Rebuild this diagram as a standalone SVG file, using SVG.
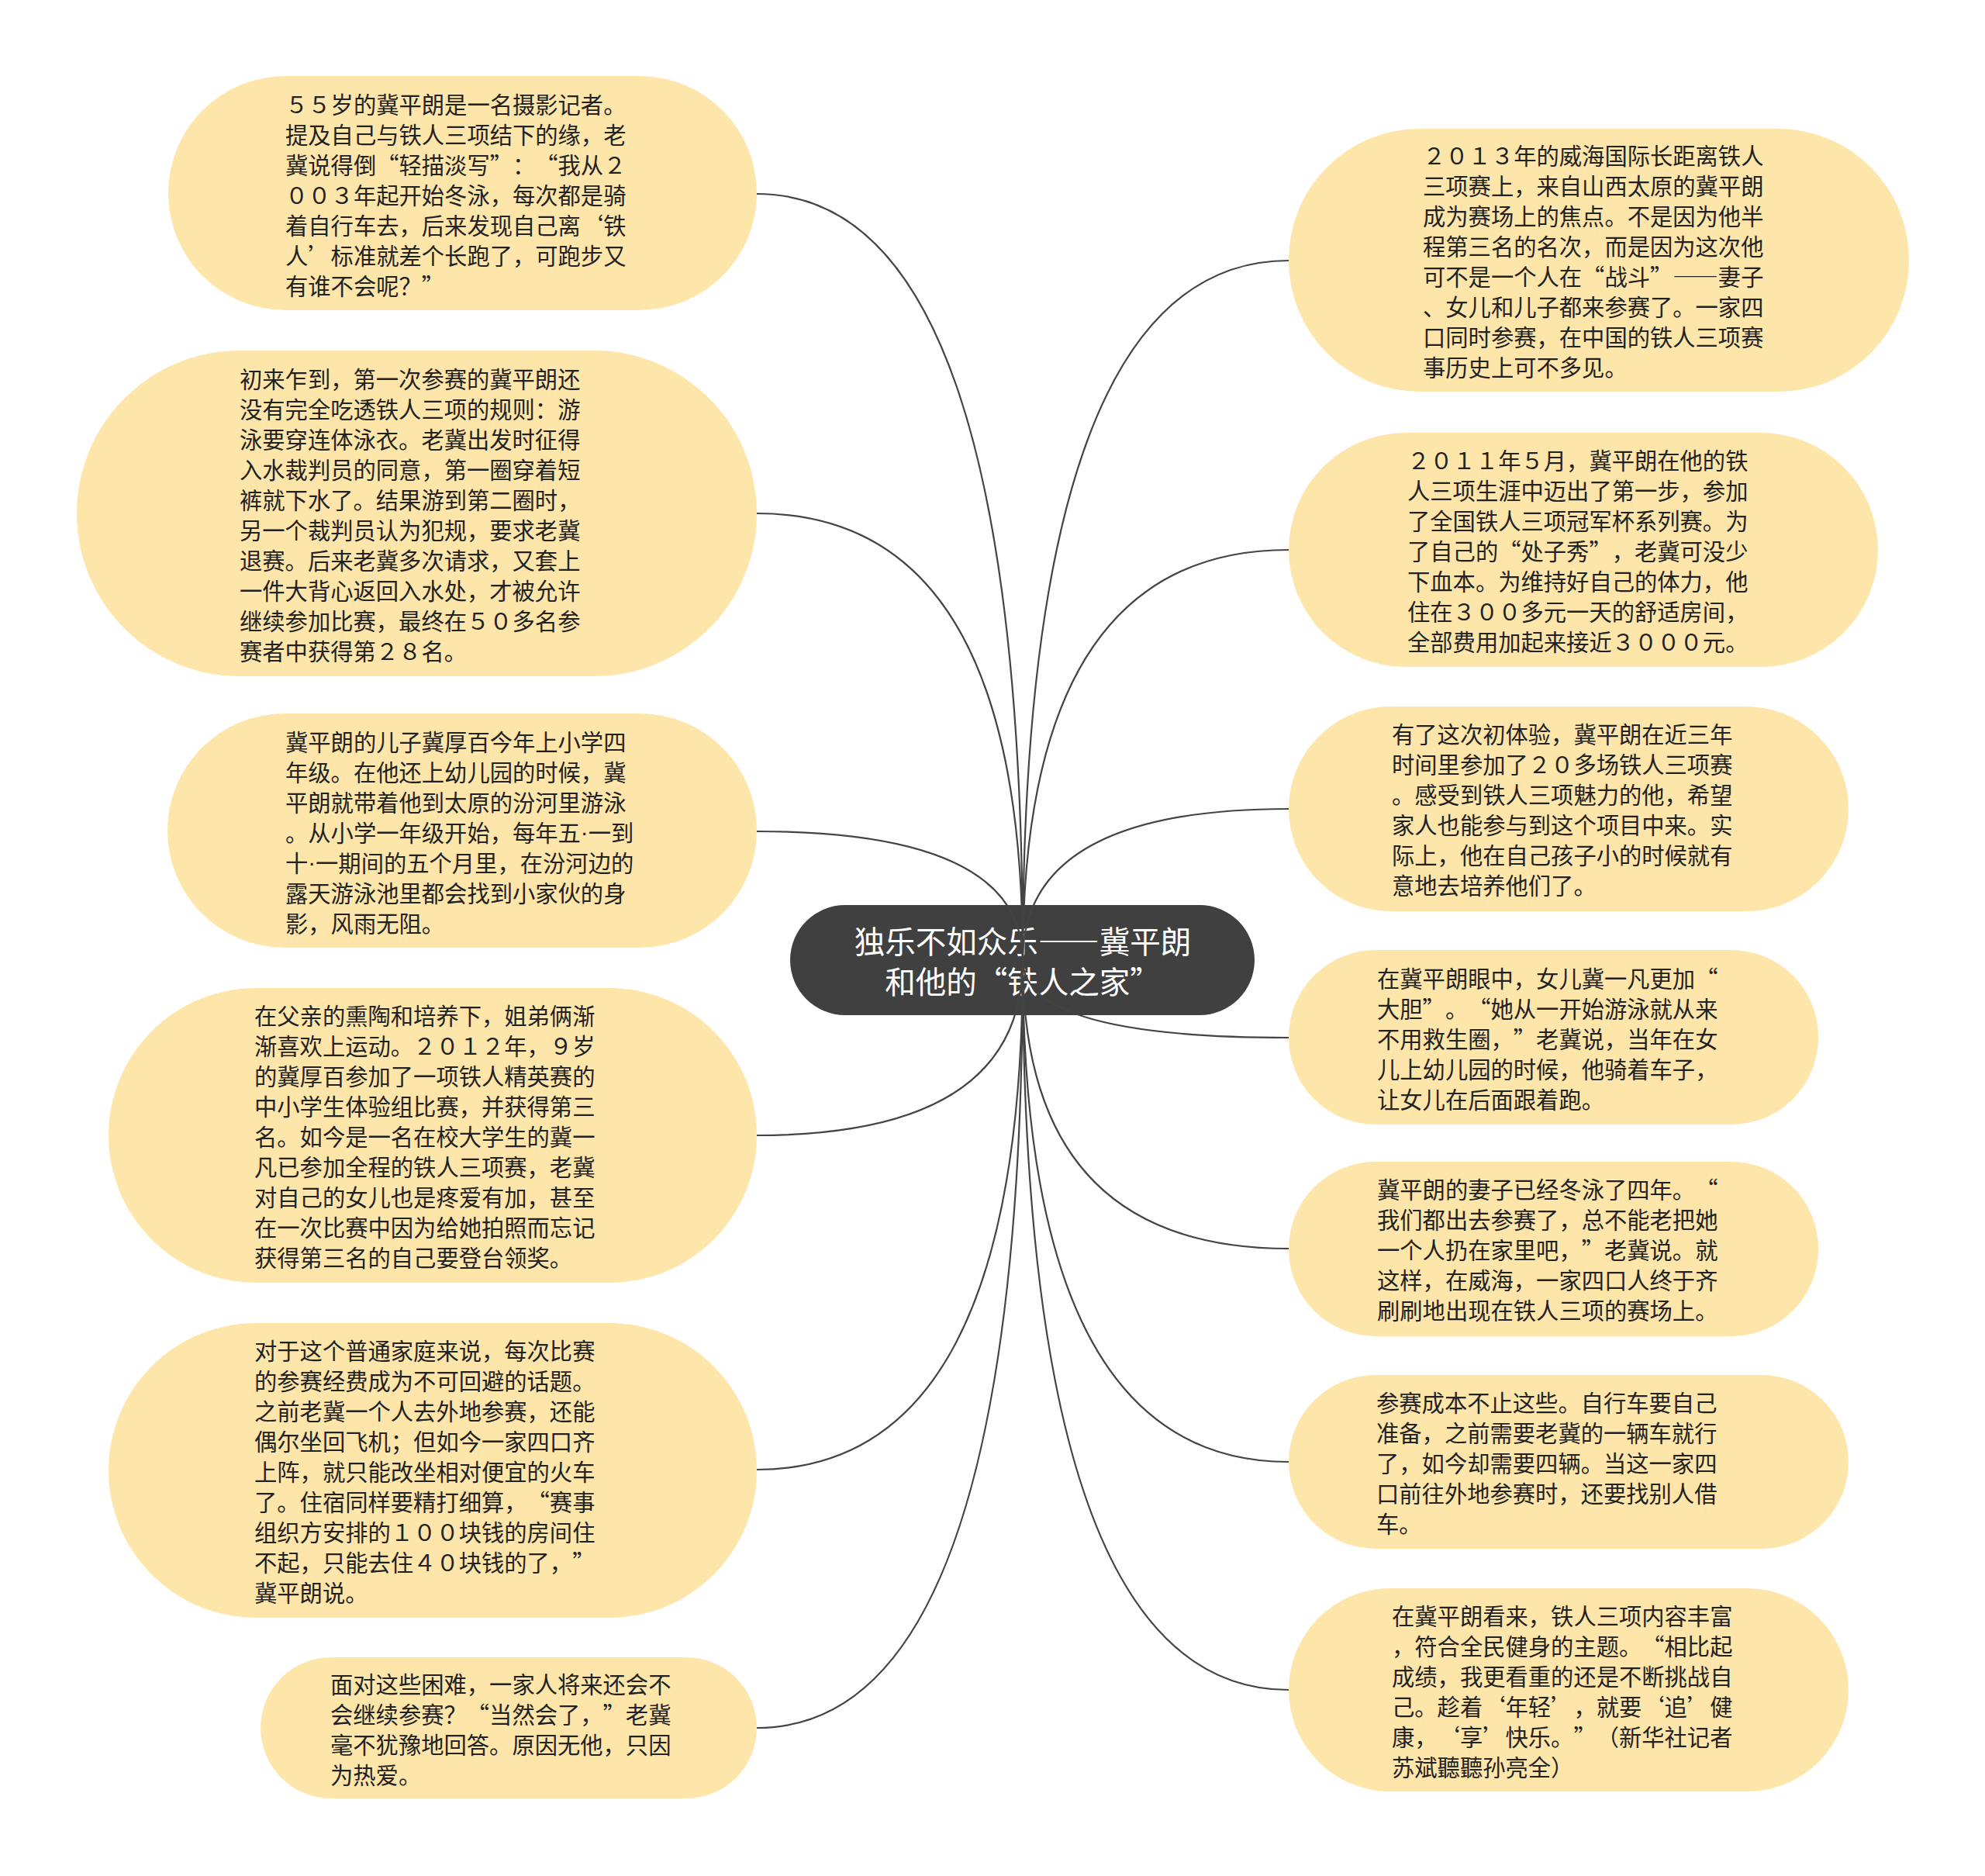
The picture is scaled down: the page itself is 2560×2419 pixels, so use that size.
<svg xmlns="http://www.w3.org/2000/svg" width="2560" height="2419" viewBox="0 0 2560 2419">
<style>
.bg{fill:#ffffff}
.node rect{fill:#FEE5AA}
.t{font-family:"Noto Sans CJK SC","Noto Sans",sans-serif;font-size:29.3px;fill:#222;dominant-baseline:central;font-feature-settings:"fwid" 1;text-spacing-trim:space-all}
.dot{font-family:"Liberation Sans",sans-serif;font-feature-settings:normal}
.root rect{fill:#404040}
.rt{font-family:"Noto Sans CJK SC","Noto Sans",sans-serif;font-size:39.5px;fill:#ffffff;dominant-baseline:central;text-anchor:middle;font-feature-settings:"fwid" 1;text-spacing-trim:space-all}
.conn path{fill:none;stroke:#444;stroke-width:2.2}
</style>
<rect class="bg" x="0" y="0" width="2560" height="2419"/>

<g id="root" class="root">
<rect x="1019" y="1167" width="599" height="142" rx="71"/>
<text class="rt" xml:lang="zh-CN"><tspan x="1319" y="1211">独乐不如众乐——冀平朗</tspan><tspan x="1319" y="1263">和他的“铁人之家”</tspan></text>
</g>

<g id="connectors" class="conn">
<path d="M1319,1238 Q1319,250 976,250"/>
<path d="M1319,1238 Q1319,662 976,662"/>
<path d="M1319,1238 Q1319,1072 976,1072"/>
<path d="M1319,1238 Q1319,1464 976,1464"/>
<path d="M1319,1238 Q1319,1895 976,1895"/>
<path d="M1319,1238 Q1319,2228 976,2228"/>
<path d="M1319,1238 Q1319,336 1662,336"/>
<path d="M1319,1238 Q1319,709 1662,709"/>
<path d="M1319,1238 Q1319,1043 1662,1043"/>
<path d="M1319,1238 Q1319,1338 1662,1338"/>
<path d="M1319,1238 Q1319,1610 1662,1610"/>
<path d="M1319,1238 Q1319,1885 1662,1885"/>
<path d="M1319,1238 Q1319,2179 1662,2179"/>
</g>

<g id="L1" class="node">
<rect x="217" y="98" width="759" height="302" rx="151"/>
<text class="t" xml:lang="zh-CN"><tspan x="368" y="133">５５岁的冀平朗是一名摄影记者。</tspan><tspan x="368" y="172">提及自己与铁人三项结下的缘，老</tspan><tspan x="368" y="211">冀说得倒“轻描淡写”：“我从２</tspan><tspan x="368" y="250">００３年起开始冬泳，每次都是骑</tspan><tspan x="368" y="289">着自行车去，后来发现自己离‘铁</tspan><tspan x="368" y="328">人’标准就差个长跑了，可跑步又</tspan><tspan x="368" y="367">有谁不会呢？”</tspan></text>
</g>

<g id="L2" class="node">
<rect x="99" y="452" width="877" height="420" rx="210"/>
<text class="t" xml:lang="zh-CN"><tspan x="309" y="487">初来乍到，第一次参赛的冀平朗还</tspan><tspan x="309" y="526">没有完全吃透铁人三项的规则：游</tspan><tspan x="309" y="565">泳要穿连体泳衣。老冀出发时征得</tspan><tspan x="309" y="604">入水裁判员的同意，第一圈穿着短</tspan><tspan x="309" y="643">裤就下水了。结果游到第二圈时，</tspan><tspan x="309" y="682">另一个裁判员认为犯规，要求老冀</tspan><tspan x="309" y="721">退赛。后来老冀多次请求，又套上</tspan><tspan x="309" y="760">一件大背心返回入水处，才被允许</tspan><tspan x="309" y="799">继续参加比赛，最终在５０多名参</tspan><tspan x="309" y="838">赛者中获得第２８名。</tspan></text>
</g>

<g id="L3" class="node">
<rect x="216" y="920" width="760" height="302" rx="151"/>
<text class="t" xml:lang="zh-CN"><tspan x="368" y="955">冀平朗的儿子冀厚百今年上小学四</tspan><tspan x="368" y="994">年级。在他还上幼儿园的时候，冀</tspan><tspan x="368" y="1033">平朗就带着他到太原的汾河里游泳</tspan><tspan x="368" y="1072">。从小学一年级开始，每年五<tspan class="dot">·</tspan>一到</tspan><tspan x="368" y="1111">十<tspan class="dot">·</tspan>一期间的五个月里，在汾河边的</tspan><tspan x="368" y="1150">露天游泳池里都会找到小家伙的身</tspan><tspan x="368" y="1189">影，风雨无阻。</tspan></text>
</g>

<g id="L4" class="node">
<rect x="140" y="1274" width="836" height="380" rx="190"/>
<text class="t" xml:lang="zh-CN"><tspan x="328" y="1308">在父亲的熏陶和培养下，姐弟俩渐</tspan><tspan x="328" y="1347">渐喜欢上运动。２０１２年，９岁</tspan><tspan x="328" y="1386">的冀厚百参加了一项铁人精英赛的</tspan><tspan x="328" y="1425">中小学生体验组比赛，并获得第三</tspan><tspan x="328" y="1464">名。如今是一名在校大学生的冀一</tspan><tspan x="328" y="1503">凡已参加全程的铁人三项赛，老冀</tspan><tspan x="328" y="1542">对自己的女儿也是疼爱有加，甚至</tspan><tspan x="328" y="1581">在一次比赛中因为给她拍照而忘记</tspan><tspan x="328" y="1620">获得第三名的自己要登台领奖。</tspan></text>
</g>

<g id="L5" class="node">
<rect x="140" y="1706" width="836" height="380" rx="190"/>
<text class="t" xml:lang="zh-CN"><tspan x="328" y="1740">对于这个普通家庭来说，每次比赛</tspan><tspan x="328" y="1779">的参赛经费成为不可回避的话题。</tspan><tspan x="328" y="1818">之前老冀一个人去外地参赛，还能</tspan><tspan x="328" y="1857">偶尔坐回飞机；但如今一家四口齐</tspan><tspan x="328" y="1896">上阵，就只能改坐相对便宜的火车</tspan><tspan x="328" y="1935">了。住宿同样要精打细算，“赛事</tspan><tspan x="328" y="1974">组织方安排的１００块钱的房间住</tspan><tspan x="328" y="2013">不起，只能去住４０块钱的了，”</tspan><tspan x="328" y="2052">冀平朗说。</tspan></text>
</g>

<g id="L6" class="node">
<rect x="336" y="2137" width="640" height="182" rx="91"/>
<text class="t" xml:lang="zh-CN"><tspan x="426" y="2170">面对这些困难，一家人将来还会不</tspan><tspan x="426" y="2209">会继续参赛？“当然会了，”老冀</tspan><tspan x="426" y="2248">毫不犹豫地回答。原因无他，只因</tspan><tspan x="426" y="2287">为热爱。</tspan></text>
</g>

<g id="R1" class="node">
<rect x="1662" y="166" width="800" height="339" rx="169"/>
<text class="t" xml:lang="zh-CN"><tspan x="1835" y="199">２０１３年的威海国际长距离铁人</tspan><tspan x="1835" y="238">三项赛上，来自山西太原的冀平朗</tspan><tspan x="1835" y="277">成为赛场上的焦点。不是因为他半</tspan><tspan x="1835" y="316">程第三名的名次，而是因为这次他</tspan><tspan x="1835" y="355">可不是一个人在“战斗”——妻子</tspan><tspan x="1835" y="394">、女儿和儿子都来参赛了。一家四</tspan><tspan x="1835" y="433">口同时参赛，在中国的铁人三项赛</tspan><tspan x="1835" y="472">事历史上可不多见。</tspan></text>
</g>

<g id="R2" class="node">
<rect x="1662" y="558" width="760" height="302" rx="151"/>
<text class="t" xml:lang="zh-CN"><tspan x="1815" y="592">２０１１年５月，冀平朗在他的铁</tspan><tspan x="1815" y="631">人三项生涯中迈出了第一步，参加</tspan><tspan x="1815" y="670">了全国铁人三项冠军杯系列赛。为</tspan><tspan x="1815" y="709">了自己的“处子秀”，老冀可没少</tspan><tspan x="1815" y="748">下血本。为维持好自己的体力，他</tspan><tspan x="1815" y="787">住在３００多元一天的舒适房间，</tspan><tspan x="1815" y="826">全部费用加起来接近３０００元。</tspan></text>
</g>

<g id="R3" class="node">
<rect x="1662" y="911" width="722" height="264" rx="132"/>
<text class="t" xml:lang="zh-CN"><tspan x="1795" y="945">有了这次初体验，冀平朗在近三年</tspan><tspan x="1795" y="984">时间里参加了２０多场铁人三项赛</tspan><tspan x="1795" y="1023">。感受到铁人三项魅力的他，希望</tspan><tspan x="1795" y="1062">家人也能参与到这个项目中来。实</tspan><tspan x="1795" y="1101">际上，他在自己孩子小的时候就有</tspan><tspan x="1795" y="1140">意地去培养他们了。</tspan></text>
</g>

<g id="R4" class="node">
<rect x="1662" y="1225" width="683" height="225" rx="112"/>
<text class="t" xml:lang="zh-CN"><tspan x="1776" y="1260">在冀平朗眼中，女儿冀一凡更加“</tspan><tspan x="1776" y="1299">大胆”。“她从一开始游泳就从来</tspan><tspan x="1776" y="1338">不用救生圈，”老冀说，当年在女</tspan><tspan x="1776" y="1377">儿上幼儿园的时候，他骑着车子，</tspan><tspan x="1776" y="1416">让女儿在后面跟着跑。</tspan></text>
</g>

<g id="R5" class="node">
<rect x="1662" y="1498" width="683" height="225" rx="112"/>
<text class="t" xml:lang="zh-CN"><tspan x="1776" y="1532">冀平朗的妻子已经冬泳了四年。“</tspan><tspan x="1776" y="1571">我们都出去参赛了，总不能老把她</tspan><tspan x="1776" y="1610">一个人扔在家里吧，”老冀说。就</tspan><tspan x="1776" y="1649">这样，在威海，一家四口人终于齐</tspan><tspan x="1776" y="1688">刷刷地出现在铁人三项的赛场上。</tspan></text>
</g>

<g id="R6" class="node">
<rect x="1662" y="1773" width="722" height="224" rx="112"/>
<text class="t" xml:lang="zh-CN"><tspan x="1775" y="1807">参赛成本不止这些。自行车要自己</tspan><tspan x="1775" y="1846">准备，之前需要老冀的一辆车就行</tspan><tspan x="1775" y="1885">了，如今却需要四辆。当这一家四</tspan><tspan x="1775" y="1924">口前往外地参赛时，还要找别人借</tspan><tspan x="1775" y="1963">车。</tspan></text>
</g>

<g id="R7" class="node">
<rect x="1662" y="2048" width="722" height="262" rx="131"/>
<text class="t" xml:lang="zh-CN"><tspan x="1795" y="2082">在冀平朗看来，铁人三项内容丰富</tspan><tspan x="1795" y="2121">，符合全民健身的主题。“相比起</tspan><tspan x="1795" y="2160">成绩，我更看重的还是不断挑战自</tspan><tspan x="1795" y="2199">己。趁着‘年轻’，就要‘追’健</tspan><tspan x="1795" y="2238">康，‘享’快乐。”（新华社记者</tspan><tspan x="1795" y="2277">苏斌聽聽孙亮全）</tspan></text>
</g>
</svg>
